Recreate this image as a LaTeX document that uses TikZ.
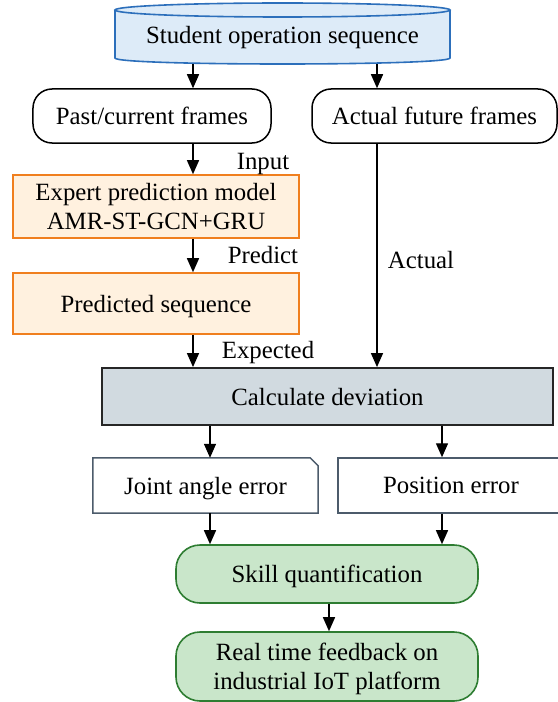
\documentclass[tikz,border=0pt]{standalone}
\usepackage{fontspec}
\setmainfont{Liberation Serif}
\usetikzlibrary{arrows.meta}

\definecolor{dbStroke}{HTML}{2C6FBB}
\definecolor{dbFill}{HTML}{DDEBF8}
\definecolor{modelStroke}{HTML}{F07F1E}
\definecolor{modelFill}{HTML}{FFF1DF}
\definecolor{calcFill}{HTML}{D1DAE0}
\definecolor{calcStroke}{HTML}{262626}
\definecolor{errStroke}{HTML}{4C5B6B}
\definecolor{okStroke}{HTML}{2E7D32}
\definecolor{okFill}{HTML}{C9E6CA}

\begin{document}
\begin{tikzpicture}[
  x=1bp, y=-1bp,
  font=\fontsize{24.8bp}{29bp}\selectfont,
  every node/.style={inner sep=0pt, align=center, text depth=0pt},
  terminal/.style={draw=black, line width=1.5bp, rounded corners=19bp, fill=white},
  modelbox/.style={draw=modelStroke, fill=modelFill, line width=1.6bp},
  calcbox/.style={draw=calcStroke, fill=calcFill, line width=1.8bp},
  errbox/.style={draw=errStroke, fill=white, line width=1.5bp},
  okbox/.style={draw=okStroke, fill=okFill, line width=1.6bp, rounded corners=24bp},
  flow/.style={draw=black, line width=1.4bp, -{Triangle[length=14bp,width=12bp]}},
  lbl/.style={anchor=center}
]
\useasboundingbox (0,0) rectangle (558,702);

% data source drawn as a cylinder
\path[draw=dbStroke, fill=dbFill, line width=1.6bp]
  (115,10) -- (115,58) .. controls (115,66) and (450,66) .. (450,58) -- (450,10);
\path[draw=dbStroke, fill=dbFill, line width=1.6bp]
  (282.5,10) ellipse [x radius=167.5bp, y radius=7bp];
\node[minimum width=335bp, minimum height=58bp] (src) at (282.5,35) {Student operation sequence};

% column guides for the vertical connectors
\coordinate (colL) at (193,0);
\coordinate (colR) at (377,0);
\coordinate (colJ) at (210,0);
\coordinate (colP) at (442,0);
\coordinate (colS) at (329,0);

% frames
\node[terminal, minimum width=238bp, minimum height=54bp] (past) at (152,116) {Past/current frames};
\node[terminal, minimum width=245bp, minimum height=54bp] (future) at (434.5,116) {Actual future frames};

% prediction branch
\node[modelbox, minimum width=286bp, minimum height=63bp] (expert) at (156,206.5)
  {Expert prediction model\\AMR-ST-GCN+GRU};
\node[modelbox, minimum width=286bp, minimum height=61bp] (pred) at (156,303.5) {Predicted sequence};

% comparison
\node[calcbox, minimum width=451bp, minimum height=57bp] (calc) at (327.5,396.5) {Calculate deviation};

% error measures
\node[minimum width=225bp, minimum height=55bp] (joint) at (205.5,485.5) {};
\path[errbox] (joint.south west) -- (joint.north west) -- ([xshift=-8bp]joint.north east)
  -- ([yshift=-8bp]joint.north east) -- (joint.south east) -- cycle;
\node at (joint.center) {Joint angle error};
\node[errbox, minimum width=226bp, minimum height=55bp] (pos) at (451,485.5) {Position error};

% outcome
\node[okbox, minimum width=302bp, minimum height=58bp] (skill) at (327,574) {Skill quantification};
\node[okbox, minimum width=302bp, minimum height=69bp] (feed) at (327,666.5)
  {Real time feedback on\\industrial IoT platform};

% connectors
\draw[flow] (src.south -| colL) -- (past.north -| colL);
\draw[flow] (src.south -| colR) -- (future.north -| colR);
\draw[flow] (past.south -| colL) -- (expert.north -| colL);
\draw[flow] (expert.south -| colL) -- (pred.north -| colL);
\draw[flow] (pred.south -| colL) -- (calc.north -| colL);
\draw[flow] (future.south -| colR) -- (calc.north -| colR);
\draw[flow] (calc.south -| colJ) -- (joint.north -| colJ);
\draw[flow] (calc.south -| colP) -- (pos.north -| colP);
\draw[flow] (joint.south -| colJ) -- (skill.north -| colJ);
\draw[flow] (pos.south -| colP) -- (skill.north -| colP);
\draw[flow] (skill.south -| colS) -- (feed.north -| colS);

% connector labels
\node[lbl] (lInput) at (263,161) {Input};
\node[lbl] (lPredict) at (263,255) {Predict};
\node[lbl] (lExpected) at (268,350) {Expected};
\node[lbl] (lActual) at (421,260) {Actual};
\end{tikzpicture}
\end{document}
